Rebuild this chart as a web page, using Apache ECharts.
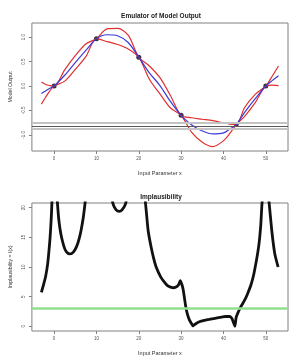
<!DOCTYPE html>
<html>
<head>
<meta charset="utf-8">
<script src="https://cdn.jsdelivr.net/npm/echarts@6/dist/echarts.min.js"></script>
<style>html,body{margin:0;padding:0;background:#fff}#c{width:300px;height:360px}</style>
</head>
<body>
<div id="c"></div>
<script>
// ---- Top panel: emulator ----
const xGrid = [-3, -2, -1, 0, 2.5, 5, 7.5, 10, 12.5, 15, 17.5, 20, 22.5, 25, 27.5, 30, 32.5, 35, 37.5, 40, 41.5, 43, 45, 47.5, 50, 51.5, 53];
const meanVals = [-0.155, -0.10, -0.045, 0, 0.22, 0.48, 0.73, 0.97, 1.05, 1.03, 0.89, 0.59, 0.27, 0.01, -0.32, -0.60, -0.80, -0.92, -0.98, -0.96, -0.88, -0.79, -0.54, -0.26, 0, 0.11, 0.21];
const upperVals = [0.08, 0.03, 0.01, 0, 0.33, 0.62, 0.86, 0.97, 1.17, 1.18, 1.04, 0.59, 0.41, 0.17, -0.20, -0.60, -0.65, -0.68, -0.71, -0.755, -0.78, -0.79, -0.44, -0.17, 0, 0.20, 0.41];
const lowerVals = [-0.37, -0.23, -0.10, 0, 0.10, 0.34, 0.60, 0.97, 0.91, 0.85, 0.76, 0.59, 0.14, -0.16, -0.45, -0.60, -0.95, -1.15, -1.24, -1.12, -0.97, -0.79, -0.62, -0.34, 0, 0.02, 0.01];
const designX = [0, 10, 20, 30, 43, 50];
const designY = [0, 0.97, 0.59, -0.60, -0.79, 0];
const zObs = -0.82;
const zBand = 0.06;
const topTicksY = [-1, -0.5, 0, 0.5, 1];
const xTicks = [0, 10, 20, 30, 40, 50];

// ---- Bottom panel: implausibility (null = curve leaves the plot) ----
const implX = [-3, -2.5, -2, -1.5, -1.2, -1, -0.8, -0.6, -0.4, 0,
  0.6, 0.8, 1.1, 1.4, 1.8, 2.5, 3.0, 3.7, 4.4, 5.0, 5.5, 6.0, 6.4, 6.9, 7.3, 7.6, 10,
  13.4, 13.9, 14.6, 15.4, 16.1, 16.9, 17.4, 19,
  21.2, 21.6, 22.2, 22.9, 23.5, 24.1, 25.2, 26.0, 26.7, 27.5, 28.3, 29.0, 29.4, 29.8, 30.2, 30.5, 31.1, 31.5, 32.0, 32.4, 32.8, 33.2, 34.3, 35.5, 36.6, 38, 39.6, 40.5, 41.5, 42.0, 42.3, 42.7, 43.0, 43.5, 44.1, 45.0, 45.7, 46.5, 47.2, 48.3, 48.8, 49.1, 49.5, 50,
  50.4, 50.8, 51.4, 52.1, 52.9];
const implV = [5.7, 7.0, 8.4, 10.6, 12.8, 14.5, 16.6, 19.3, 23, null,
  23, 20.7, 18.1, 16.4, 14.9, 13.1, 12.5, 12.2, 12.4, 13.0, 13.8, 15.0, 16.3, 18.4, 20.7, 23, null,
  23, 20.7, 19.7, 19.4, 19.7, 20.7, 23, null,
  23, 20.7, 16.2, 13.4, 11.5, 10.0, 8.3, 7.5, 6.9, 6.6, 6.5, 6.7, 7.0, 7.7, 7.0, 6.1, 3.3, 2.0, 1.0, 0.5, 0.05, 0.3, 0.75, 1.0, 1.15, 1.35, 1.55, 1.65, 1.65, 1.3, 0.75, 0.0, 1.5, 2.4, 3.3, 4.4, 5.5, 7.0, 8.9, 13.4, 17, 20.7, 23, null,
  23, 20.7, 16.2, 12.3, 10.0];
const cutoff = 3;
const botTicksY = [0, 5, 10, 15, 20];

const FF = 'Liberation Sans, Arial, sans-serif';
const zip = (xs, ys) => xs.map((x, i) => [x, ys[i]]);
const fmt1 = v => (Math.abs(v) < 1e-9 ? '0.0' : v.toFixed(1));

function xAxisCfg(gi) {
  return {
    gridIndex: gi, type: 'value', min: -5.24, max: 55.24,
    name: 'Input Parameter x', nameLocation: 'middle', nameGap: 19,
    nameTextStyle: { fontSize: 5.5, color: '#333', fontFamily: FF },
    axisLine: { show: false, onZero: false },
    axisTick: { show: true, length: 3, lineStyle: { color: '#808080', width: 1 }, customValues: xTicks },
    axisLabel: { customValues: xTicks, fontSize: 4.5, color: '#555', margin: 5, fontFamily: FF },
    splitLine: { show: false }
  };
}
function yAxisCfg(gi, min, max, ticks, name, f) {
  return {
    gridIndex: gi, type: 'value', min: min, max: max,
    name: name, nameLocation: 'middle', nameGap: 18,
    nameTextStyle: { fontSize: 5.2, color: '#333', fontFamily: FF },
    axisLine: { show: false, onZero: false },
    axisTick: { show: true, length: 3, lineStyle: { color: '#808080', width: 1 }, customValues: ticks },
    axisLabel: { customValues: ticks, fontSize: 4.5, color: '#555', margin: 6, rotate: 90, fontFamily: FF, formatter: f },
    splitLine: { show: false }
  };
}

const chart = echarts.init(document.getElementById('c'), null, { renderer: 'canvas' });
chart.setOption({
  animation: false,
  backgroundColor: '#fff',
  title: [
    { text: 'Emulator of Model Output', left: 156, top: 7.5, textAlign: 'center',
      textStyle: { fontSize: 6.5, fontWeight: 'bold', color: '#222', fontFamily: FF } },
    { text: 'Implausibility', left: 156, top: 188.5, textAlign: 'center',
      textStyle: { fontSize: 6.5, fontWeight: 'bold', color: '#222', fontFamily: FF } }
  ],
  grid: [
    { left: 24, right: 12, top: 23, height: 128, show: true, borderColor: '#808080', borderWidth: 1, backgroundColor: 'transparent' },
    { left: 24, right: 12, top: 203, height: 128, show: true, borderColor: '#808080', borderWidth: 1, backgroundColor: 'transparent' }
  ],
  xAxis: [xAxisCfg(0), xAxisCfg(1)],
  yAxis: [
    yAxisCfg(0, -1.33, 1.29, topTicksY, 'Model Output', fmt1),
    yAxisCfg(1, -0.8, 20.8, botTicksY, 'Implausibility = I(x)', v => String(v))
  ],
  series: [
    { type: 'line', xAxisIndex: 0, yAxisIndex: 0, data: [], silent: true,
      markLine: { silent: true, symbol: 'none', label: { show: false }, animation: false,
        data: [
          { yAxis: zObs + zBand, lineStyle: { color: '#c4c4c4', width: 2, type: 'solid' } },
          { yAxis: zObs - zBand, lineStyle: { color: '#c4c4c4', width: 2, type: 'solid' } },
          { yAxis: zObs, lineStyle: { color: '#5a5a5a', width: 1, type: 'solid' } }
        ] } },
    { type: 'line', xAxisIndex: 0, yAxisIndex: 0, data: zip(xGrid, upperVals), smooth: 0.3,
      showSymbol: false, lineStyle: { color: '#e03030', width: 1.2 }, emphasis: { disabled: true } },
    { type: 'line', xAxisIndex: 0, yAxisIndex: 0, data: zip(xGrid, lowerVals), smooth: 0.3,
      showSymbol: false, lineStyle: { color: '#e03030', width: 1.2 }, emphasis: { disabled: true } },
    { type: 'line', xAxisIndex: 0, yAxisIndex: 0, data: zip(xGrid, meanVals), smooth: 0.3,
      showSymbol: false, lineStyle: { color: '#3a3ad6', width: 1.2 }, emphasis: { disabled: true } },
    { type: 'scatter', xAxisIndex: 0, yAxisIndex: 0, data: zip(designX, designY),
      symbol: 'circle', symbolSize: 5, itemStyle: { color: '#000' }, emphasis: { disabled: true } },
    { type: 'line', xAxisIndex: 1, yAxisIndex: 1, data: [], silent: true,
      markLine: { silent: true, symbol: 'none', label: { show: false }, animation: false,
        data: [ { yAxis: cutoff, lineStyle: { color: '#90e090', width: 2.5, type: 'solid' } } ] } },
    { type: 'line', xAxisIndex: 1, yAxisIndex: 1,
      data: implX.map((x, i) => [x, implV[i] == null ? '-' : implV[i]]),
      connectNulls: false, smooth: 0.2, clip: true,
      showSymbol: false,
      lineStyle: { color: '#111', width: 2.8 }, emphasis: { disabled: true } }
  ]
});
</script>
</body>
</html>
